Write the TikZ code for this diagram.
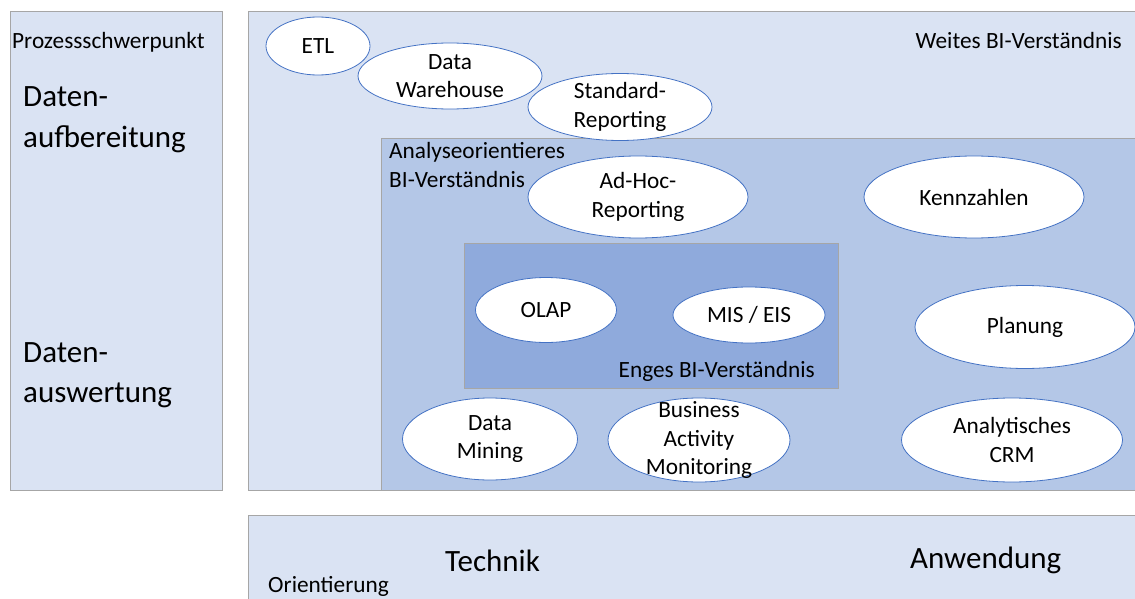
\documentclass[tikz,border=0pt]{standalone}
\usepackage{fontspec}
\setmainfont{Carlito}
\usetikzlibrary{shapes.geometric}
\usepackage{xcolor}
\definecolor{hellblau}{HTML}{DAE3F3}
\definecolor{mittelblau}{HTML}{B4C7E7}
\definecolor{dunkelblau}{HTML}{8FAADC}
\definecolor{rahmen}{HTML}{A6A6A6}
\definecolor{ellrand}{HTML}{4472C4}
\newcommand{\kleinschrift}{\fontsize{23.3}{28.5}\selectfont}
\newcommand{\grossschrift}{\fontsize{31}{40}\selectfont}

\begin{document}
\begin{tikzpicture}[x=1pt, y=-1pt,
 feld/.style={draw=rahmen, line width=1pt},
 blase/.style={ellipse, draw=ellrand, fill=white, line width=.8pt, inner sep=0pt},
 blasetext/.style={font=\kleinschrift, align=center, inner sep=0pt},
 beschr/.style={font=\kleinschrift, inner sep=0pt, align=left},
 grossbeschr/.style={font=\grossschrift, inner sep=0pt, align=left}]
\useasboundingbox (0,0) rectangle (1135,599);
\clip (0,0) rectangle (1135,599);
\draw[feld, fill=hellblau] (10,12) rectangle (222,490);
\draw[feld, fill=hellblau] (248,12) rectangle (1145,490);
\draw[feld, fill=mittelblau] (381,139) rectangle (1145,490);
\draw[feld, fill=dunkelblau] (464,243) rectangle (838,388);
\draw[feld, fill=hellblau] (248,515) rectangle (1145,610);
\node[beschr, anchor=base west] (prozess) at (12,49) {Prozessschwerpunkt};
\node[grossbeschr, anchor=base west] (aufber) at (23,147) {Daten-\\aufbereitung};
\node[grossbeschr, anchor=base west] (auswert) at (23,402) {Daten-\\auswertung};
\node[beschr, anchor=base east] (weit) at (1122,49) {Weites BI-Verständnis};
\node[beschr, anchor=base west] (analyse) at (389,187) {Analyseorientieres\\[0.5pt]BI-Verständnis};
\node[beschr, anchor=base east] (eng) at (815,377) {Enges BI-Verständnis};
\node[beschr, anchor=base west] (orient) at (268,592) {Orientierung};
\node[grossbeschr, anchor=base west] (technik) at (445,571) {Technik};
\node[grossbeschr, anchor=base west] (anwend) at (910,568) {Anwendung};
\foreach \nm/\cx/\cy/\w/\h/\inhalt in {
 etl/318/46/104/58/{ETL},
 dwh/450/76/184/66/{Data\\Warehouse},
 stdrep/620/107/184/67/{Standard-\\Reporting},
 adhoc/638/197/220/82/{Ad-Hoc-\\Reporting},
 kennz/974/197/220/82/{Kennzahlen},
 olap/546/310/141/65/{OLAP},
 miseis/749/315/152/56/{MIS / EIS},
 planung/1025/327/220/83/{Planung},
 mining/490/439/175/82/{Data\\Mining},
 bam/699/440/182/84/{Business\\Activity\\Monitoring},
 crm/1012/440/221/84/{Analytisches\\CRM}}
 \node[blase, minimum width=\w pt, minimum height=\h pt, label={[blasetext]center:\inhalt}] (\nm) at (\cx,\cy) {};
\end{tikzpicture}
\end{document}
